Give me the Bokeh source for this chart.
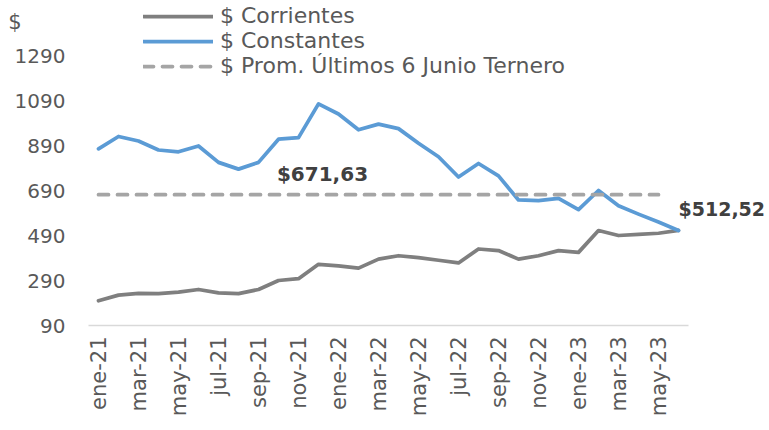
import math
from bokeh.plotting import figure
from bokeh.models import (FixedTicker, Legend, LegendItem, Label, Range1d, ColumnDataSource)
from bokeh.embed import file_html
from bokeh.resources import INLINE

months = ["ene-21", "feb-21", "mar-21", "abr-21", "may-21", "jun-21", "jul-21", "ago-21",
          "sep-21", "oct-21", "nov-21", "dic-21", "ene-22", "feb-22", "mar-22", "abr-22",
          "may-22", "jun-22", "jul-22", "ago-22", "sep-22", "oct-22", "nov-22", "dic-22",
          "ene-23", "feb-23", "mar-23", "abr-23", "may-23", "jun-23"]

corrientes = [200, 225, 233, 232, 238, 250, 235, 232, 250, 290, 298, 362, 355, 345, 385,
              400, 392, 380, 368, 430, 423, 385, 400, 423, 415, 512, 490, 495, 500, 512.52]

constantes = [875, 930, 910, 870, 862, 888, 815, 785, 815, 918, 925, 1075, 1030, 960, 985,
              965, 900, 840, 750, 810, 755, 648, 645, 655, 605, 690, 622, 585, 550, 512.52]

promedio = 671.63
prom_months = 29  # dashed line spans ene-21 .. may-23

y_ticks = [90, 290, 490, 690, 890, 1090, 1290]
label_prom = "$671,63"
label_last = "$512,52"

FONT = "DejaVu Sans"
TXT = "#595959"

n = len(months)
xs = list(range(n))
src = ColumnDataSource(dict(x=xs, corr=corrientes, cons=constantes))
src_avg = ColumnDataSource(dict(x=xs[:prom_months], y=[promedio] * prom_months))

W, H = 768, 429
LEFT, BOTTOM = 88, 325
px_per_month = 20
px_per_unit = 45 / 200
x_end = -0.5 + (W - LEFT) / px_per_month
y_top = y_ticks[0] + BOTTOM / px_per_unit

p = figure(width=W, height=H, output_backend="svg", toolbar_location=None,
           x_range=Range1d(-0.5, x_end),
           y_range=Range1d(y_ticks[0], y_top),
           min_border_left=LEFT, min_border_right=0, min_border_top=0,
           min_border_bottom=H - BOTTOM)
p.outline_line_color = None
p.xgrid.visible = False
p.ygrid.visible = False
p.background_fill_color = "white"
p.border_fill_color = "white"

r_corr = p.line("x", "corr", source=src, line_color="#7f7f7f", line_width=3.75,
                line_join="round", line_cap="round")
r_cons = p.line("x", "cons", source=src, line_color="#5b9bd5", line_width=3.75,
                line_join="round", line_cap="round")
r_avg = p.line("x", "y", source=src_avg, line_color="#a5a5a5", line_width=3.75,
               line_dash="10 9", line_cap="round")

# axes
yax = p.yaxis[0]
yax.ticker = FixedTicker(ticks=y_ticks)
yax.axis_line_color = None
yax.major_tick_line_color = None
yax.minor_tick_line_color = None
yax.major_tick_out = 0
yax.major_label_standoff = 23
yax.major_label_text_font = FONT
yax.major_label_text_font_size = "20px"
yax.major_label_text_color = TXT
yax.axis_label = "\n$"
yax.axis_label_orientation = "horizontal"
yax.axis_label_align = "end"
yax.axis_label_standoff = -10
yax.axis_label_text_font = FONT
yax.axis_label_text_font_size = "21px"
yax.axis_label_text_font_style = "normal"
yax.axis_label_text_color = TXT
yax.axis_label_text_baseline = "top"
yax.axis_label_text_line_height = 1.75

p.xaxis.ticker = FixedTicker(ticks=xs[::2])
p.xaxis.major_label_overrides = {i: months[i] for i in xs[::2]}
p.xaxis.major_label_orientation = math.pi / 2
p.xaxis.bounds = (-0.5, n - 0.5)
p.xaxis.axis_line_color = "#d9d9d9"
p.xaxis.axis_line_width = 1.5
p.xaxis.major_tick_line_color = None
p.xaxis.minor_tick_line_color = None
p.xaxis.major_tick_out = 0
p.xaxis.major_label_standoff = 11
p.xaxis.major_label_text_font = FONT
p.xaxis.major_label_text_font_size = "21px"
p.xaxis.major_label_text_color = TXT

legend = Legend(items=[LegendItem(label="$ Corrientes", renderers=[r_corr]),
                       LegendItem(label="$ Constantes", renderers=[r_cons]),
                       LegendItem(label="$ Prom. Últimos 6 Junio Ternero", renderers=[r_avg])],
                location=(55, 247), orientation="vertical")
legend.background_fill_alpha = 0
legend.border_line_color = None
legend.padding = 0
legend.margin = 0
legend.spacing = 0
legend.glyph_width = 70
legend.glyph_height = 22
legend.label_height = 22
legend.label_standoff = 7
legend.label_text_font = FONT
legend.label_text_font_size = "22px"
legend.label_text_color = TXT
legend.label_text_baseline = "middle"
p.add_layout(legend, "center")

p.add_layout(Label(x=11.2, y=765, text=label_prom, text_font=FONT, text_font_size="20px",
                   text_font_style="bold", text_color="#404040", text_align="center",
                   text_baseline="middle"))
p.add_layout(Label(x=n - 1, y=610, text=label_last, text_font=FONT, text_font_size="19px",
                   text_font_style="bold", text_color="#404040", text_align="left",
                   text_baseline="middle"))

open("out.html", "w").write(file_html(p, INLINE))
